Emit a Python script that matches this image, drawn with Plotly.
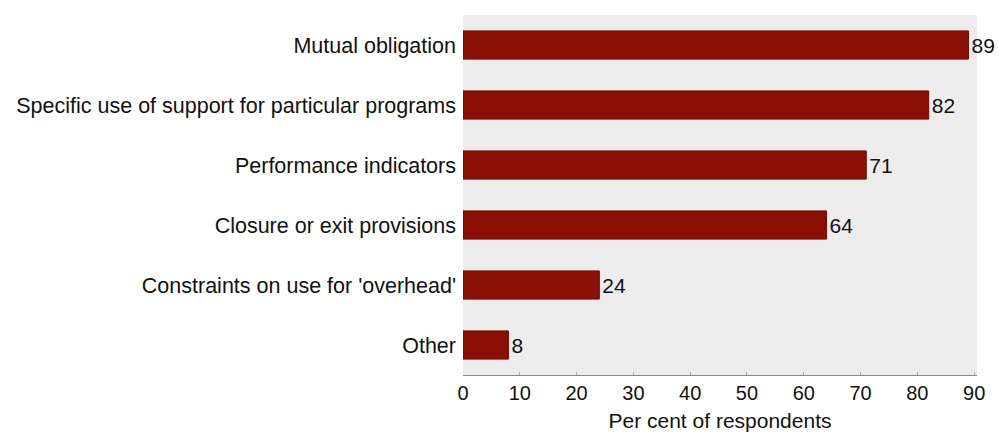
import plotly.graph_objects as go

categories = [
    "Mutual obligation",
    "Specific use of support for particular programs",
    "Performance indicators",
    "Closure or exit provisions",
    "Constraints on use for 'overhead'",
    "Other",
]
values = [89, 82, 71, 64, 24, 8]
tick_vals = [0, 10, 20, 30, 40, 50, 60, 70, 80, 90]

font = "Liberation Sans, Arial, sans-serif"

fig = go.Figure(
    go.Bar(
        y=categories,
        x=values,
        orientation="h",
        width=0.47,
        marker=dict(color="#8c0f06", line=dict(color="#6e0a04", width=1)),
        text=[str(v) for v in values],
        textposition="outside",
        textfont=dict(family=font, size=21, color="#111111"),
        cliponaxis=False,
    )
)

fig.update_layout(
    width=999,
    height=432,
    margin=dict(l=463, r=22, t=15, b=57),
    paper_bgcolor="white",
    plot_bgcolor="#ededed",
    showlegend=False,
    font=dict(family=font, size=21, color="#111111"),
)

fig.update_xaxes(
    range=[0, 90.5],
    tickvals=tick_vals,
    showgrid=False,
    zeroline=False,
    showline=True,
    linecolor="#888888",
    linewidth=1,
    ticks="inside",
    ticklen=3,
    tickcolor="#aaaaaa",
    tickfont=dict(size=20),
    automargin=False,
    title=dict(text="Per cent of respondents", font=dict(size=21), standoff=10),
)

fig.update_yaxes(
    autorange="reversed",
    showgrid=False,
    zeroline=False,
    showline=False,
    ticks="",
    ticklabelstandoff=6,
    automargin=False,
    tickfont=dict(size=21.5),
)

fig.write_html("out.html")
